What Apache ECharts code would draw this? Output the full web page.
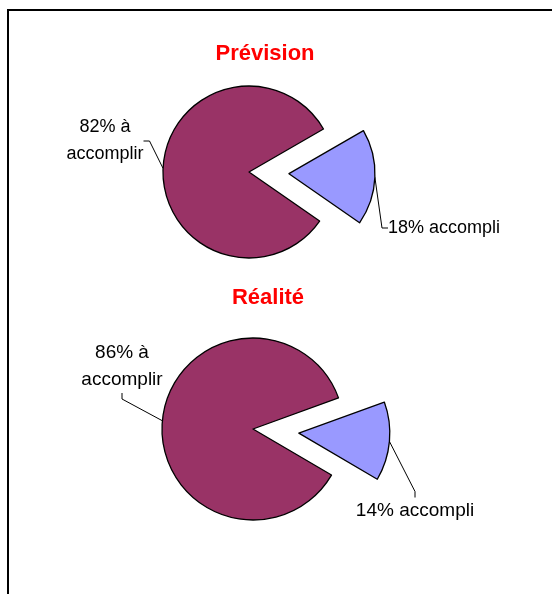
<!DOCTYPE html>
<html>
<head>
<meta charset="utf-8">
<script src="https://cdn.jsdelivr.net/npm/echarts@6/dist/echarts.min.js"></script>
<style>
    html, body { margin: 0; padding: 0; background: #fff; }
    #chart { width: 552px; height: 594px; }
</style>
</head>
<body>
<div id="chart"></div>
<script>
// data
var categories = ['accompli', 'à accomplir'];
var titles = ['Prévision', 'Réalité'];
var previsionValues = [18, 82];
var realiteValues = [14, 86];
var colors = ['#9999ff', '#993366'];

// label anchor positions (per chart, per slice)
var labelPos = [
    [{ x: 388, y: 228, align: 'left' }, { x: 105, y: 141, align: 'center' }],
    [{ x: 415, y: 511, align: 'center' }, { x: 122, y: 366, align: 'center' }]
];

var myChart = echarts.init(document.getElementById('chart'));

// one series draws only the slice "show", the other slice is left empty
function buildData(values, show) {
    return values.map(function (v, i) {
        var item = { name: categories[i], value: v, itemStyle: { color: colors[i] } };
        if (i !== show) {
            item.itemStyle = { color: 'rgba(0,0,0,0)', borderWidth: 0 };
            item.label = { show: false };
            item.labelLine = { show: false };
        }
        return item;
    });
}

function pieSeries(idx, values, show, center, radius, startAngle, fontSize) {
    return {
        type: 'pie',
        center: center,
        radius: radius,
        startAngle: startAngle,
        avoidLabelOverlap: false,
        animation: false,
        silent: true,
        data: buildData(values, show),
        itemStyle: {
            borderColor: '#000',
            borderWidth: 1.3
        },
        label: {
            show: true,
            position: 'outside',
            color: '#000',
            fontFamily: 'Liberation Sans, Arial, sans-serif',
            fontSize: fontSize,
            lineHeight: 27,
            align: 'center',
            formatter: function (p) {
                return p.value + '% ' + p.name.replace(' ', '\n');
            }
        },
        labelLine: {
            show: true,
            length: 10,
            length2: 6,
            lineStyle: { color: '#000', width: 1 }
        },
        labelLayout: function (params) {
            var pos = labelPos[idx][params.dataIndex];
            return {
                x: pos.x,
                y: pos.y,
                align: pos.align,
                verticalAlign: 'middle'
            };
        }
    };
}

// exploded slice: shift the centre along the middle angle of the small slice
function explodedCenter(values, center, startAngle, offset) {
    var total = values[0] + values[1];
    var mid = (startAngle - 360 * values[0] / total / 2) * Math.PI / 180;
    return [center[0] + offset * Math.cos(mid), center[1] - offset * Math.sin(mid)];
}

function piePair(idx, values, center, radius, startAngle, offset, fontSize) {
    return [
        pieSeries(idx, values, 1, center, radius, startAngle, fontSize),
        pieSeries(idx, values, 0, explodedCenter(values, center, startAngle, offset), radius, startAngle, fontSize)
    ];
}

var titleStyle = { color: '#ff0000', fontSize: 22, fontWeight: 'bold', fontFamily: 'Liberation Sans, Arial, sans-serif' };

myChart.setOption({
    backgroundColor: '#fff',
    title: [{
        text: titles[0],
        left: 265,
        top: 43,
        padding: 0,
        textAlign: 'center',
        textStyle: titleStyle
    }, {
        text: titles[1],
        left: 268,
        top: 287,
        padding: 0,
        textAlign: 'center',
        textStyle: titleStyle
    }],
    graphic: [{
        type: 'rect',
        shape: { x: 8, y: 10, width: 700, height: 700 },
        style: { fill: 'none', stroke: '#000', lineWidth: 2 },
        silent: true
    }],
    series: piePair(0, previsionValues, [249, 172], 86, 30, 40, 18)
        .concat(piePair(1, realiteValues, [253, 429], 91, 20, 46, 19))
});
</script>
</body>
</html>
